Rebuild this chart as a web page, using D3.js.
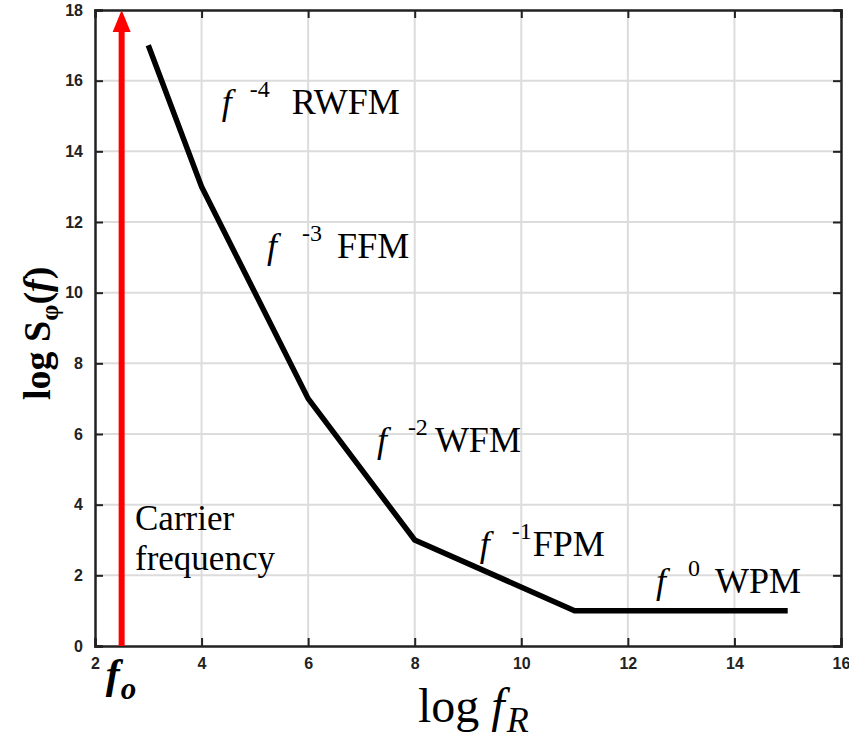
<!DOCTYPE html>
<html>
<head>
<meta charset="utf-8">
<script src="https://cdn.jsdelivr.net/npm/d3@7"></script>
<style>
  body { margin: 0; background: #fff; }
  .serif { font-family: "Liberation Serif", "Times New Roman", serif; fill: #000; }
</style>
</head>
<body>
<div class="chart"></div>
<script>
var svgWidth = 849;
var svgHeight = 742;

var margin = { top: 10, right: 8, bottom: 96, left: 95 };
var width = svgWidth - margin.left - margin.right;
var height = svgHeight - margin.top - margin.bottom;

// data
var xValues = [3, 4, 6, 8, 11, 15];
var yValues = [17, 13, 7, 3, 1, 1];
var xTicks = [2, 4, 6, 8, 10, 12, 14, 16];
var yTicks = [0, 2, 4, 6, 8, 10, 12, 14, 16, 18];
var carrierX = 2.5;

// noise labels: exponent, name, anchor (data units)
var labelExp = ["-4", "-3", "-2", "-1", "0"];
var labelName = ["RWFM", "FFM", "WFM", "FPM", "WPM"];
var labelX = [4.38, 5.23, 7.29, 9.22, 12.53];
var labelY = [15.06, 10.98, 5.49, 2.55, 1.5];

// pixel offsets of exponent / name from the "f"
var expOffset = [28, 35, 31, 32, 32];
var nameOffset = [70, 70, 58, 53, 59];

var svg = d3.select(".chart")
  .append("svg")
  .attr("width", svgWidth)
  .attr("height", svgHeight);

var chartGroup = svg.append("g")
  .attr("transform", `translate(${margin.left}, ${margin.top})`);

var x = d3.scaleLinear().domain([2, 16]).range([0, width]);
var y = d3.scaleLinear().domain([0, 18]).range([height, 0]);

// grid
chartGroup.append("g")
  .selectAll("line")
  .data(xTicks.slice(1, -1))
  .enter()
  .append("line")
  .attr("x1", d => x(d)).attr("x2", d => x(d))
  .attr("y1", 0).attr("y2", height)
  .attr("stroke", "#dcdcdc").attr("stroke-width", 2);

chartGroup.append("g")
  .selectAll("line")
  .data(yTicks.slice(1, -1))
  .enter()
  .append("line")
  .attr("y1", d => y(d)).attr("y2", d => y(d))
  .attr("x1", 0).attr("x2", width)
  .attr("stroke", "#dcdcdc").attr("stroke-width", 2);

// axes (ticks point inwards)
var bottomAxis = d3.axisBottom(x).tickValues(xTicks).tickSize(-8).tickPadding(12);
var leftAxis = d3.axisLeft(y).tickValues(yTicks).tickSize(-8).tickPadding(12);
var topAxis = d3.axisTop(x).tickValues(xTicks).tickSize(-8).tickFormat("");
var rightAxis = d3.axisRight(y).tickValues(yTicks).tickSize(-8).tickFormat("");

[
  chartGroup.append("g").attr("transform", `translate(0, ${height})`).call(bottomAxis),
  chartGroup.append("g").call(leftAxis),
  chartGroup.append("g").call(topAxis),
  chartGroup.append("g").attr("transform", `translate(${width}, 0)`).call(rightAxis)
].forEach(function(g) {
  g.attr("font-family", "Arial, 'Liberation Sans', sans-serif")
    .attr("font-size", 16)
    .attr("font-weight", "bold");
  g.select(".domain").attr("stroke", "#222").attr("stroke-width", 2.5);
  g.selectAll(".tick line").attr("stroke", "#222").attr("stroke-width", 2);
  g.selectAll(".tick text").attr("fill", "#222");
});

// red carrier arrow
chartGroup.append("line")
  .attr("x1", x(carrierX)).attr("x2", x(carrierX))
  .attr("y1", y(0)).attr("y2", y(17.5))
  .attr("stroke", "#ff0000").attr("stroke-width", 6);

chartGroup.append("path")
  .attr("d", `M${x(carrierX)},${y(18)} L${x(carrierX) - 9},${y(18) + 22} L${x(carrierX) + 9},${y(18) + 22} Z`)
  .attr("fill", "#ff0000");

// spectrum line
var pts = xValues.map((d, i) => [d, yValues[i]]);
chartGroup.append("path")
  .datum(pts)
  .attr("fill", "none")
  .attr("stroke", "#000")
  .attr("stroke-width", 5.5)
  .attr("stroke-linejoin", "miter")
  .attr("d", d3.line().x(d => x(d[0])).y(d => y(d[1])));

// noise labels
labelName.forEach(function(name, i) {
  var g = chartGroup.append("g")
    .attr("transform", `translate(${x(labelX[i])}, ${y(labelY[i])})`);
  g.append("text").classed("serif", true)
    .style("font-size", "36px").style("font-style", "italic")
    .text("f");
  g.append("text").classed("serif", true)
    .attr("x", expOffset[i]).attr("y", -17)
    .style("font-size", "24px")
    .text(labelExp[i]);
  g.append("text").classed("serif", true)
    .attr("x", nameOffset[i])
    .style("font-size", "36px")
    .text(name);
});

// carrier frequency text
chartGroup.append("text").classed("serif", true)
  .attr("x", 40).attr("y", 520).style("font-size", "35px")
  .text("Carrier");
chartGroup.append("text").classed("serif", true)
  .attr("x", 40).attr("y", 560).style("font-size", "35px")
  .text("frequency");

// f_o under the arrow
var fo = chartGroup.append("text").classed("serif", true)
  .attr("x", x(carrierX) - 16).attr("y", height + 42)
  .style("font-size", "42px").style("font-weight", "bold").style("font-style", "italic");
fo.append("tspan").text("f");
fo.append("tspan").attr("dy", 11).attr("dx", 1).style("font-size", "31px").text("o");

// x label
var xl = chartGroup.append("text").classed("serif", true)
  .attr("x", 323).attr("y", height + 76)
  .style("font-size", "48px");
xl.append("tspan").text("log ");
xl.append("tspan").style("font-style", "italic").text("f");
xl.append("tspan").attr("dy", 10).attr("dx", 2).style("font-style", "italic").style("font-size", "36px").text("R");

// y label
var yl = svg.append("text").classed("serif", true)
  .attr("transform", "translate(50, 400) rotate(-90)")
  .style("font-size", "38px").style("font-weight", "bold");
yl.append("tspan").text("log ");
yl.append("tspan").text("S");
yl.append("tspan").attr("dy", 8).style("font-size", "26px").text("φ");
yl.append("tspan").attr("dy", -8).text("(");
yl.append("tspan").style("font-style", "italic").text("f");
yl.append("tspan").text(")");
</script>
</body>
</html>
